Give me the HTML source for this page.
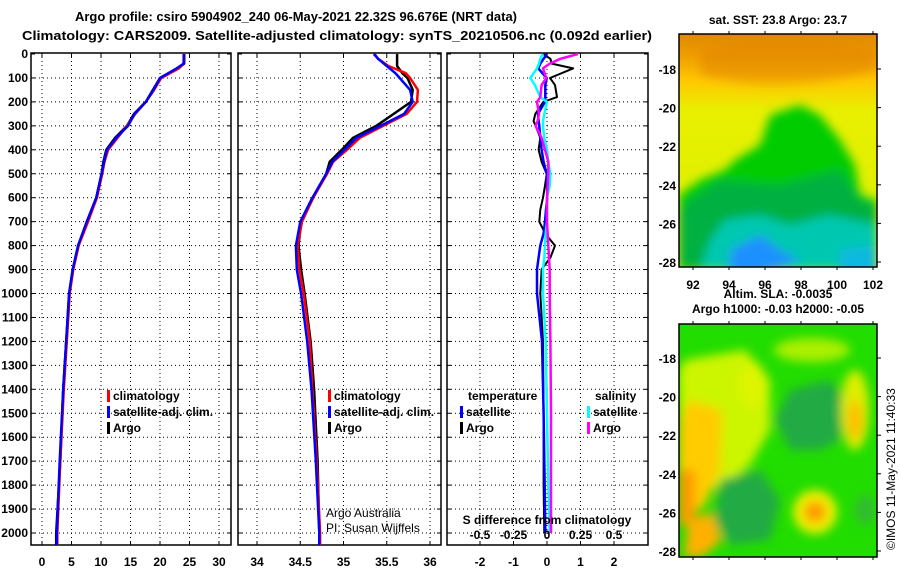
<!DOCTYPE html>
<html><head><meta charset="utf-8">
<style>
html,body{margin:0;padding:0;background:#fff;}
svg{display:block;font-family:"Liberation Sans",Arial,sans-serif;}
.t{font-weight:bold;font-size:12px;fill:#000;}
.grid{stroke:#000;stroke-width:1;stroke-dasharray:1,3;}
</style></head>
<body>
<svg id="chart" width="900" height="580" viewBox="0 0 900 580" xmlns="http://www.w3.org/2000/svg">
<defs>
<filter id="blur" x="-10%" y="-10%" width="120%" height="120%"><feGaussianBlur stdDeviation="5"/></filter>
<clipPath id="m1clip"><rect x="679" y="34" width="198" height="233"/></clipPath>
<clipPath id="m2clip"><rect x="679" y="324" width="198" height="233"/></clipPath>
<linearGradient id="sstg" x1="0" y1="0" x2="0" y2="1">
<stop offset="0" stop-color="#e08800"/><stop offset="0.1" stop-color="#f0a000"/><stop offset="0.2" stop-color="#ffc800"/><stop offset="0.33" stop-color="#e8f000"/><stop offset="1" stop-color="#d8f000"/>
</linearGradient>
</defs>
<text x="75" y="21" class="t" style="font-size:13px" textLength="442" lengthAdjust="spacingAndGlyphs">Argo profile: csiro 5904902_240 06-May-2021 22.32S 96.676E (NRT data)</text>
<text x="22" y="40" class="t" style="font-size:13px" textLength="630" lengthAdjust="spacingAndGlyphs">Climatology: CARS2009. Satellite-adjusted climatology: synTS_20210506.nc (0.092d earlier)</text>
<g id="panels"></g>
<g id="maps">
<text x="778" y="24" class="t" text-anchor="middle">sat. SST: 23.8 Argo: 23.7</text>
<g clip-path="url(#m1clip)">
<rect x="679" y="34" width="198" height="233" fill="url(#sstg)"/>
<g filter="url(#blur)">
<path d="M700 75 Q780 95 877 70 L877 50 Q780 30 700 50Z" fill="#e08000" opacity="0.5"/>
<path d="M735 160 L760 145 L770 115 L800 105 L820 115 L840 140 L855 165 L860 195 L877 200 L877 270 L679 270 L679 195 L700 180 L725 170Z" fill="#00cc00"/>
<path d="M690 200 L720 180 L780 185 L840 170 L860 200 L877 205 L877 270 L679 270 L679 210Z" fill="#00b040"/>
<path d="M710 240 L725 220 L760 215 L790 225 L830 215 L877 225 L877 270 L700 270Z" fill="#00c8b0"/>
<path d="M730 250 L760 235 L780 250 L800 260 L760 275 L730 275Z" fill="#1a90ff"/>
<path d="M840 250 L877 245 L877 275 L840 275Z" fill="#10b8e0"/>
</g>
</g>
<rect x="679" y="34" width="198" height="233" fill="none" stroke="#000" stroke-width="1.5"/>
<g id="m1ticks"></g>
<text x="778" y="298" class="t" text-anchor="middle">Altim. SLA: -0.0035</text>
<text x="778" y="313" class="t" text-anchor="middle">Argo h1000: -0.03 h2000: -0.05</text>
<g clip-path="url(#m2clip)">
<rect x="679" y="324" width="198" height="233" fill="#22dd00"/>
<g filter="url(#blur)">
<path d="M685 360 L745 350 L770 380 L770 430 L750 465 L725 485 L690 495 L679 495 L679 370Z" fill="#ccf500"/>
<path d="M688 400 L722 410 L720 470 L705 505 L679 525 L679 420Z" fill="#ffcc00"/>
<rect x="679" y="470" width="16" height="55" fill="#ff9a00"/>
<path d="M688 520 L712 512 L722 540 L702 557 L684 557Z" fill="#ffb000"/>
<ellipse cx="752" cy="385" rx="14" ry="24" fill="#ddf500"/>
<ellipse cx="812" cy="350" rx="38" ry="12" fill="#aaf000"/>
<path d="M790 390 L830 380 L845 400 L840 440 L820 450 L790 450 L775 420Z" fill="#22aa44"/>
<path d="M720 480 L760 470 L780 500 L770 540 L730 545 L715 520Z" fill="#22aa44"/>
<ellipse cx="815" cy="512" rx="22" ry="22" fill="#eef000"/>
<ellipse cx="815" cy="512" rx="11" ry="11" fill="#ff9a00"/>
<ellipse cx="855" cy="410" rx="14" ry="40" fill="#ddee00"/>
<ellipse cx="855" cy="420" rx="7" ry="20" fill="#ffbb00"/>
<ellipse cx="865" cy="510" rx="10" ry="15" fill="#33bb33"/>
</g>
</g>
<rect x="679" y="324" width="198" height="233" fill="none" stroke="#000" stroke-width="1.5"/>
<g id="m2ticks"></g>
<text transform="translate(895,550) rotate(-90)" style="font-size:12px" fill="#000">©IMOS 11-May-2021 11:40:33</text>
</g>
</svg>
<script>
// ---- data ----
var tDepth = [0,40,60,100,150,200,250,300,350,400,450,500,600,700,800,900,1000,1200,1400,1700,2000,2050];
var tClim  = [24.0,24.0,23.2,20.2,19.0,17.6,15.8,14.4,12.8,11.2,10.6,10.2,9.3,7.8,6.2,5.3,4.7,4.2,3.7,3.1,2.6,2.6];
var tSat   = [24.1,24.0,22.8,20.0,18.9,17.6,15.7,14.6,12.6,11.0,10.5,10.1,9.2,7.6,6.1,5.2,4.6,4.1,3.6,3.0,2.5,2.5];
var tArgo  = [24.1,24.1,23.0,20.0,18.8,17.6,15.6,14.4,12.4,10.9,10.4,10.1,9.2,7.6,6.2,5.2,4.6,4.1,3.6,3.1,2.4,2.4];
var sDepth = [0,20,50,80,100,150,200,250,300,350,400,450,500,600,700,800,900,1000,1200,1400,1700,2000,2050];
var sClim  = [35.36,35.40,35.52,35.72,35.77,35.86,35.85,35.73,35.46,35.19,35.04,34.88,34.81,34.65,34.52,34.47,34.49,34.54,34.61,34.64,34.69,34.73,34.73];
var sSat   = [35.35,35.40,35.50,35.60,35.65,35.77,35.80,35.70,35.43,35.15,35.01,34.87,34.80,34.64,34.50,34.45,34.46,34.51,34.58,34.63,34.68,34.72,34.72];
var sArgo  = [35.62,35.62,35.62,35.68,35.74,35.80,35.78,35.58,35.38,35.11,34.98,34.84,34.80,34.65,34.51,34.48,34.51,34.55,34.62,34.66,34.70,34.72,34.72];
var dDepth = [0,20,40,60,100,130,180,200,250,280,300,350,400,450,500,550,600,650,700,750,800,850,900,1000,1200,1500,1800,2000];
var dTSat  = [0.0,-0.1,-0.2,-0.26,-0.01,-0.05,-0.05,-0.06,-0.27,-0.25,-0.23,-0.2,-0.16,-0.1,-0.01,0.0,0.01,-0.03,-0.06,-0.1,-0.2,-0.25,-0.3,-0.3,-0.15,-0.1,-0.07,-0.05];
var dTArgo = [-0.11,0.1,0.14,0.78,0.09,0.24,0.3,-0.11,-0.35,-0.4,-0.34,-0.2,-0.25,-0.16,-0.01,-0.06,-0.12,-0.2,-0.23,-0.05,0.24,0.1,-0.16,-0.2,-0.12,-0.1,-0.1,-0.08];
var dSSat  = [-0.03,-0.05,-0.06,-0.075,-0.125,-0.09,-0.05,0.0,-0.02,-0.03,-0.03,-0.02,0.0,0.01,0.025,0.02,0.0,0.0,0.0,-0.01,-0.015,-0.02,-0.03,-0.03,-0.01,0.0,0.01,0.02];
var dSArgo = [0.23,0.1,0.02,-0.03,-0.005,-0.04,-0.05,-0.075,-0.06,-0.07,-0.085,-0.04,-0.015,0.01,0.01,0.005,0.0,0.0,0.0,0.005,0.01,0.015,0.02,0.02,0.025,0.03,0.03,0.03];
var depthTicks = [0,100,200,300,400,500,600,700,800,900,1000,1100,1200,1300,1400,1500,1600,1700,1800,1900,2000];
var tTicks = [0,5,10,15,20,25,30];
var sTicks = [34,34.5,35,35.5,36];
var sTickLabels = ["34","34.5","35","35.5","36"];
var dTicks = [-2,-1,0,1,2];
var dSTicks = [-0.5,-0.25,0,0.25,0.5];
var dSTickLabels = ["-0.5","-0.25","0","0.25","0.5"];
var latTicks = [-18,-20,-22,-24,-26,-28];
var lonTicks = [92,94,96,98,100,102];

var NS='http://www.w3.org/2000/svg';
function mk(tag, attrs, parent){var e=document.createElementNS(NS,tag);for(var k in attrs)e.setAttribute(k,attrs[k]);parent.appendChild(e);return e;}
var root=document.getElementById('panels');
var Y0=53, Y1=545;
function yD(d){return 54+d*0.2395;}
function lin(a,b,pa,pb){return function(v){return pa+(v-a)*(pb-pa)/(b-a);};}

var panels=[
 {name:'temperature-panel',x0:31,x1:231,xs:lin(0,30,42,219)},
 {name:'salinity-panel',x0:238,x1:441,xs:lin(34,36,257,430)},
 {name:'difference-panel',x0:447,x1:648,xs:lin(0,2,547,614)}
];
panels.forEach(function(p,i){
  var g=mk('g',{},root);
  
  
  p.g=g;
  var ticks=i==0?tTicks:(i==1?sTicks:dTicks);
  var labs=i==0?tTicks.map(String):(i==1?sTickLabels:dTicks.map(String));
  depthTicks.forEach(function(d){
    if(d>0) mk('line',{x1:p.x0,x2:p.x1,y1:yD(d),y2:yD(d),'class':'grid'},g);
    mk('line',{x1:p.x0,x2:p.x0+4,y1:yD(d),y2:yD(d),stroke:'#000'},g);
    mk('line',{x1:p.x1-4,x2:p.x1,y1:yD(d),y2:yD(d),stroke:'#000'},g);
  });
  ticks.forEach(function(v,k){
    var x=p.xs(v);
    mk('line',{x1:x,x2:x,y1:Y0,y2:Y1,'class':'grid'},g);
    mk('line',{x1:x,x2:x,y1:Y1-4,y2:Y1,stroke:'#000'},g);
    mk('line',{x1:x,x2:x,y1:Y0,y2:Y0+4,stroke:'#000'},g);
    var t=mk('text',{x:x,y:566,'class':'t','text-anchor':'middle'},g);
    
    
    t.textContent=labs[k];
  });
  mk('rect',{x:p.x0,y:Y0,width:p.x1-p.x0,height:Y1-Y0,fill:'none',stroke:'#000','stroke-width':1.5},g);
});
depthTicks.forEach(function(d){
  var t=mk('text',{x:28,y:yD(d)+4,'class':'t','text-anchor':'end'},root);
  
  
  t.textContent=String(d);
});
function line(g,xs,vals,depths,color,name,w){
  var pts=vals.map(function(v,k){return xs(v).toFixed(1)+','+yD(depths[k]).toFixed(1);}).join(' ');
  var l=mk('polyline',{points:pts,fill:'none',stroke:color,'stroke-width':w||2.5,'stroke-linejoin':'round'},g);
  
  
}
var P=panels;
line(P[0].g,P[0].xs,tArgo,tDepth,'#000','temp-argo-line');
line(P[0].g,P[0].xs,tClim,tDepth,'#f00','temp-climatology-line');
line(P[0].g,P[0].xs,tSat,tDepth,'#00f','temp-satellite-line');
line(P[1].g,P[1].xs,sArgo,sDepth,'#000','sal-argo-line');
line(P[1].g,P[1].xs,sClim,sDepth,'#f00','sal-climatology-line');
line(P[1].g,P[1].xs,sSat,sDepth,'#00f','sal-satellite-line');
var sx=function(v){return P[2].xs(v*4);};
line(P[2].g,P[2].xs,dTArgo,dDepth,'#000','tdiff-argo-line',2);
line(P[2].g,P[2].xs,dTSat,dDepth,'#00f','tdiff-satellite-line',2.5);
line(P[2].g,sx,dSSat,dDepth,'#0ff','sdiff-satellite-line',2.5);
line(P[2].g,sx,dSArgo,dDepth,'#f0f','sdiff-argo-line',2.5);

function legend(g,x,y,color,label,name){
  var lg=mk('g',{},g);
  
  
  mk('rect',{x:x,y:y-10,width:3,height:12,fill:color},lg);
  var t=mk('text',{x:x+6,y:y,'class':'t'},lg);t.textContent=label;
}
legend(P[0].g,107,400,'#f00','climatology','legend-climatology');
legend(P[0].g,107,416,'#00f','satellite-adj. clim.','legend-satellite');
legend(P[0].g,107,432,'#000','Argo','legend-argo');
legend(P[1].g,328,400,'#f00','climatology','legend-climatology-s');
legend(P[1].g,328,416,'#00f','satellite-adj. clim.','legend-satellite-s');
legend(P[1].g,328,432,'#000','Argo','legend-argo-s');
var tt=mk('text',{x:468,y:400,'class':'t'},P[2].g);tt.textContent='temperature';
var st=mk('text',{x:595,y:400,'class':'t'},P[2].g);st.textContent='salinity';
legend(P[2].g,460,416,'#00f','satellite','legend-t-satellite');
legend(P[2].g,460,432,'#000','Argo','legend-t-argo');
legend(P[2].g,587,416,'#0ff','satellite','legend-s-satellite');
legend(P[2].g,587,432,'#f0f','Argo','legend-s-argo');
var sd=mk('text',{x:547,y:524,'class':'t','text-anchor':'middle'},P[2].g);sd.textContent='S difference from climatology';
dSTicks.forEach(function(v,k){
  var t=mk('text',{x:sx(v),y:539,'class':'t','text-anchor':'middle'},P[2].g);
  
  
  t.textContent=dSTickLabels[k];
});
var ac=mk('text',{x:326,y:517,'font-size':'12',fill:'#000'},P[1].g);ac.textContent='Argo Australia';
var pi=mk('text',{x:326,y:532,'font-size':'12',fill:'#000'},P[1].g);pi.textContent='PI: Susan Wijffels';

function mapTicks(id,top,bot,yA,labelsX){
  var g=document.getElementById(id);
  var ly=lin(-18,-28,yA,yA+193);
  var lx=lin(92,102,693,873);
  latTicks.forEach(function(v){
    var y=ly(v);
    mk('line',{x1:877,x2:881,y1:y,y2:y,stroke:'#000'},g);
    var t=mk('text',{x:676,y:y+5,'class':'t','text-anchor':'end'},g);
    
    
    t.textContent=String(v);
  });
  lonTicks.forEach(function(v){
    var x=lx(v);
    mk('line',{x1:x,x2:x,y1:top,y2:top-3,stroke:'#000'},g);
    mk('line',{x1:x,x2:x,y1:bot,y2:bot+3,stroke:'#000'},g);
    if(labelsX){
      var t=mk('text',{x:x,y:289,'class':'t','text-anchor':'middle'},g);
      
      
      t.textContent=String(v);
    }
  });
}
mapTicks('m1ticks',34,267,69,true);
mapTicks('m2ticks',324,557,358,false);
</script>
</body></html>
